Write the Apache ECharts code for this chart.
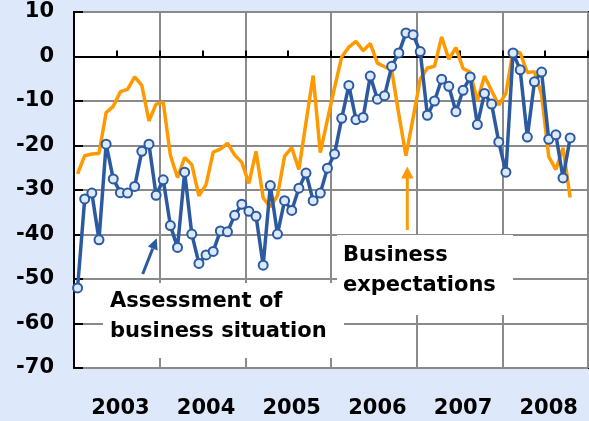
<!DOCTYPE html>
<html>
<head>
<meta charset="utf-8">
<script src="https://cdn.jsdelivr.net/npm/echarts@6/dist/echarts.min.js"></script>
<style>
html,body{margin:0;padding:0;background:#dde9fb;}
#c{width:589px;height:421px;}
</style>
</head>
<body>
<div id="c"></div>
<script>
// Monthly categories Jan 2003 .. Dec 2008
const years = ['2003','2004','2005','2006','2007','2008'];
const months = ['01','02','03','04','05','06','07','08','09','10','11','12'];
const categories = [];
years.forEach(y => months.forEach(m => categories.push(y + '-' + m)));

// Assessment of business situation (blue, with markers), Jan 2003 .. Oct 2008
const assessment = [
  -52.0, -32.0, -30.7, -41.2, -19.7, -27.5, -30.6, -30.7, -29.2, -21.3, -19.7, -31.2,
  -27.7, -38.0, -42.9, -26.0, -39.9, -46.5, -44.6, -43.8, -39.2, -39.4, -35.7, -33.2,
  -34.8, -35.9, -46.9, -29.0, -39.9, -32.4, -34.6, -29.6, -26.2, -32.4, -30.7, -25.1,
  -21.9, -13.9, -6.5, -14.2, -13.7, -4.4, -9.6, -8.8, -2.2, 0.8, 5.3, 4.9,
  1.1, -13.2, -10.0, -5.1, -6.7, -12.4, -7.6, -4.6, -15.3, -8.3, -10.7, -19.2,
  -26.0, 0.8, -3.0, -18.1, -5.7, -3.5, -18.6, -17.6, -27.3, -18.3
];

// Business expectations (orange), Jan 2003 .. Oct 2008
const expectations = [
  -26.4, -22.3, -21.9, -21.8, -12.6, -11.2, -7.9, -7.4, -4.6, -6.5, -14.5, -10.7,
  -10.3, -22.2, -27.2, -22.7, -24.3, -31.3, -28.8, -21.5, -20.8, -19.5, -22.1, -23.8,
  -28.5, -21.3, -31.8, -33.8, -31.3, -22.4, -20.5, -25.4, -14.8, -4.3, -21.6, -14.2,
  -7.0, -0.1, 2.1, 3.4, 1.3, 2.9, -1.5, -2.3, -3.0, -13.0, -22.3, -13.8,
  -5.1, -2.6, -2.2, 4.4, -0.6, 2.0, -2.7, -3.5, -10.0, -4.4, -7.7, -10.9,
  -8.3, 1.3, 0.8, -3.6, -3.4, -8.6, -22.5, -25.4, -20.5, -31.7
];

const yTicks = { min: -70, max: 10, interval: 10 };

const FONT = '"DejaVu Sans", sans-serif';
const chart = echarts.init(document.getElementById('c'), null, { renderer: 'canvas' });

chart.setOption({
  animation: false,
  backgroundColor: '#dde9fb',
  grid: {
    left: 74, right: 1, top: 12, bottom: 53,
    show: true, backgroundColor: '#ffffff',
    borderColor: '#000', borderWidth: 2
  },
  xAxis: {
    type: 'category',
    data: categories,
    boundaryGap: true,
    axisLine: { lineStyle: { color: '#000', width: 2 } },
    axisTick: {
      show: true, inside: true, length: 6,
      interval: (i) => i % 6 === 0,
      lineStyle: { color: '#000', width: 2 }
    },
    axisLabel: {
      interval: (i) => i % 12 === 6,
      formatter: (v) => v.slice(0, 4),
      color: '#000', fontWeight: 'bold', fontSize: 21, fontFamily: FONT,
      margin: 30
    },
    splitLine: {
      show: true,
      interval: (i) => i % 12 === 0,
      lineStyle: { color: '#8a8a8a', width: 2 }
    }
  },
  yAxis: {
    type: 'value',
    min: yTicks.min, max: yTicks.max, interval: yTicks.interval,
    axisLine: { show: true, lineStyle: { color: '#000', width: 2 } },
    axisTick: { show: true, inside: true, length: 9, lineStyle: { color: '#000', width: 2 } },
    axisLabel: {
      color: '#000', fontWeight: 'bold', fontSize: 21, fontFamily: FONT, margin: 20
    },
    splitLine: { show: true, lineStyle: { color: '#8a8a8a', width: 2 } }
  },
  series: [
    {
      name: 'Business expectations',
      type: 'line',
      data: expectations,
      symbol: 'none',
      lineStyle: { color: '#ff9900', width: 3.5 },
      itemStyle: { color: '#ff9900' },
      z: 3
    },
    {
      name: 'Assessment of business situation',
      type: 'line',
      data: assessment,
      symbol: 'circle',
      symbolSize: 9,
      showAllSymbol: true,
      lineStyle: { color: '#2c5aa0', width: 3.5 },
      itemStyle: { color: '#dbe9fb', borderColor: '#2c5aa0', borderWidth: 2 },
      z: 4
    }
  ],
  graphic: [
    { type: 'rect', z: 50, shape: { x: 103, y: 283, width: 241, height: 75 }, style: { fill: '#fff' } },
    { type: 'rect', z: 50, shape: { x: 337, y: 235, width: 176, height: 80 }, style: { fill: '#fff' } },
    { type: 'text', z: 51, x: 110, y: 287,
      style: { text: 'Assessment of\nbusiness situation', font: 'bold 21px ' + FONT, fill: '#000', lineHeight: 30 } },
    { type: 'text', z: 51, x: 343, y: 241,
      style: { text: 'Business\nexpectations', font: 'bold 21px ' + FONT, fill: '#000', lineHeight: 30 } },
    // blue arrow
    { type: 'line', z: 52, shape: { x1: 142.7, y1: 274, x2: 152.7, y2: 248.6 }, style: { stroke: '#2c5aa0', lineWidth: 3 } },
    { type: 'polygon', z: 52, shape: { points: [[156.7, 238.3], [157.6, 250.6], [147.8, 246.6]] }, style: { fill: '#2c5aa0' } },
    // orange arrow
    { type: 'line', z: 52, shape: { x1: 407.3, y1: 230, x2: 407.3, y2: 177 }, style: { stroke: '#ff9900', lineWidth: 3 } },
    { type: 'polygon', z: 52, shape: { points: [[407.3, 166.5], [413.5, 178.5], [401.1, 178.5]] }, style: { fill: '#ff9900' } }
  ]
});
</script>
</body>
</html>
